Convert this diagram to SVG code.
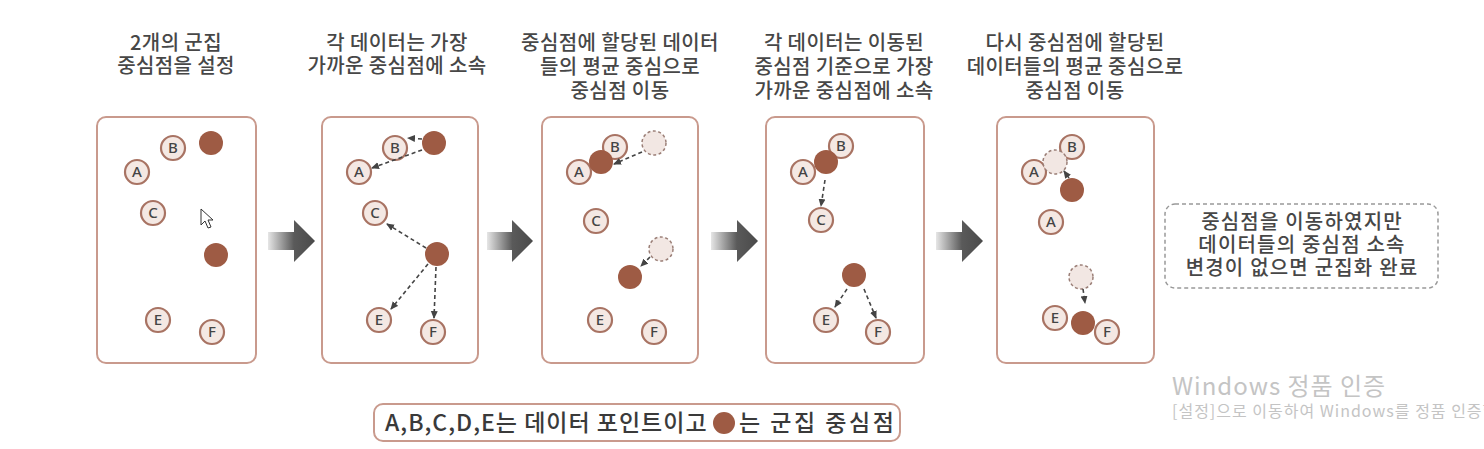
<svg xmlns="http://www.w3.org/2000/svg" width="1484" height="449" viewBox="0 0 1484 449">
<style>
.t{font-family:"Noto Sans CJK KR","Noto Sans",sans-serif;font-size:20px;font-weight:500;fill:#474747;text-anchor:middle;letter-spacing:0.4px}
.r{font-size:20px;letter-spacing:1.2px}
.box{fill:#fff;stroke:#c99a8d;stroke-width:2}
.d circle{fill:#f4e8e3;stroke:#a87363;stroke-width:2.2}
.d text{font-family:"Noto Sans","DejaVu Sans",sans-serif;font-size:15px;font-weight:500;fill:#444;text-anchor:middle}
.c{fill:#9e5b44}
.o{fill:#f2e7e3;stroke:#9a7e76;stroke-width:1.5;stroke-dasharray:3 2.5}
.ln{stroke:#444;stroke-width:1.6;stroke-dasharray:4 3;fill:none;marker-end:url(#ah)}
.ga{fill:url(#gg)}
.lg{font-family:"Noto Sans CJK KR","Noto Sans",sans-serif;font-size:23px;font-weight:500;fill:#3a3a3a}
.wm{font-family:"Noto Sans CJK KR","Noto Sans",sans-serif;fill:#c4c4c4}
</style>
<defs>
<marker id="ah" markerWidth="8" markerHeight="8" refX="7" refY="4" orient="auto" markerUnits="userSpaceOnUse"><path d="M0,0.5 L8,4 L0,7.5 Z" fill="#444"/></marker>
<linearGradient id="gg" x1="0" y1="0" x2="1" y2="0"><stop offset="0" stop-color="#e6e6e6"/><stop offset="0.55" stop-color="#5a5a5a"/><stop offset="1" stop-color="#4a4a4a"/></linearGradient>
</defs>
<rect width="1484" height="449" fill="#fff"/>

<g id="title1"><text class="t" x="176" y="50">2개의 군집</text><text class="t" x="176" y="73">중심점을 설정</text></g>
<g id="title2"><text class="t" x="397" y="50">각 데이터는 가장</text><text class="t" x="397" y="73">가까운 중심점에 소속</text></g>
<g id="title3"><text class="t" x="620" y="50">중심점에 할당된 데이터</text><text class="t" x="620" y="74">들의 평균 중심으로</text><text class="t" x="620" y="98">중심점 이동</text></g>
<g id="title4"><text class="t" x="844" y="50">각 데이터는 이동된</text><text class="t" x="844" y="74">중심점 기준으로 가장</text><text class="t" x="844" y="98">가까운 중심점에 소속</text></g>
<g id="title5"><text class="t" x="1075" y="50">다시 중심점에 할당된</text><text class="t" x="1075" y="74">데이터들의 평균 중심으로</text><text class="t" x="1075" y="98">중심점 이동</text></g>

<g id="panel1">
<rect class="box" x="97" y="117" width="159" height="246" rx="9"/>
<g class="d"><circle cx="173" cy="148" r="12"/><text x="173" y="153">B</text></g>
<g class="d"><circle cx="137" cy="172" r="12"/><text x="137" y="177">A</text></g>
<g class="d"><circle cx="153" cy="213" r="12"/><text x="153" y="218">C</text></g>
<g class="d"><circle cx="158" cy="320" r="12"/><text x="158" y="325">E</text></g>
<g class="d"><circle cx="212" cy="332" r="12"/><text x="212" y="337">F</text></g>
<circle class="c" cx="211" cy="143" r="12"/>
<circle class="c" cx="216" cy="255" r="12"/>
<path d="M201,209 L201,225 L205,221 L208,228 L211,227 L208,220 L213,220 Z" fill="#fff" stroke="#333" stroke-width="1"/>
</g>

<g id="panel2">
<rect class="box" x="322" y="117" width="156" height="246" rx="9"/>
<g class="d"><circle cx="395" cy="148" r="12"/><text x="395" y="153">B</text></g>
<g class="d"><circle cx="359" cy="172" r="12"/><text x="359" y="177">A</text></g>
<g class="d"><circle cx="375" cy="213" r="12"/><text x="375" y="218">C</text></g>
<g class="d"><circle cx="379" cy="320" r="12"/><text x="379" y="325">E</text></g>
<g class="d"><circle cx="433" cy="332" r="12"/><text x="433" y="337">F</text></g>
<circle class="c" cx="434" cy="143" r="12"/>
<circle class="c" cx="437" cy="254" r="12"/>
</g>

<g id="panel3">
<rect class="box" x="542" y="117" width="156" height="246" rx="9"/>
<g class="d"><circle cx="615" cy="147" r="12"/><text x="615" y="152">B</text></g>
<g class="d"><circle cx="579" cy="172" r="12"/><text x="579" y="177">A</text></g>
<circle class="c" cx="601" cy="162" r="12"/>
<circle class="o" cx="654" cy="143" r="12"/>
<g class="d"><circle cx="596" cy="221" r="12"/><text x="596" y="226">C</text></g>
<circle class="o" cx="661" cy="249" r="12"/>
<circle class="c" cx="630" cy="277" r="12"/>
<g class="d"><circle cx="600" cy="320" r="12"/><text x="600" y="325">E</text></g>
<g class="d"><circle cx="654" cy="332" r="12"/><text x="654" y="337">F</text></g>
</g>

<g id="panel4">
<rect class="box" x="766" y="117" width="158" height="246" rx="9"/>
<g class="d"><circle cx="841" cy="146" r="12"/><text x="841" y="151">B</text></g>
<g class="d"><circle cx="803" cy="172" r="12"/><text x="803" y="177">A</text></g>
<circle class="c" cx="826" cy="162" r="12"/>
<g class="d"><circle cx="821" cy="220" r="12"/><text x="821" y="225">C</text></g>
<circle class="c" cx="854" cy="275" r="12"/>
<g class="d"><circle cx="826" cy="320" r="12"/><text x="826" y="325">E</text></g>
<g class="d"><circle cx="878" cy="332" r="12"/><text x="878" y="337">F</text></g>
</g>

<g id="panel5">
<rect class="box" x="997" y="117" width="157" height="246" rx="9"/>
<g class="d"><circle cx="1072" cy="147" r="12"/><text x="1072" y="152">B</text></g>
<g class="d"><circle cx="1034" cy="172" r="12"/><text x="1034" y="177">A</text></g>
<circle class="o" cx="1055" cy="162" r="12"/>
<circle class="c" cx="1072" cy="190" r="12"/>
<g class="d"><circle cx="1051" cy="222" r="12"/><text x="1051" y="227">A</text></g>
<circle class="o" cx="1081" cy="277" r="12"/>
<g class="d"><circle cx="1055" cy="318" r="12"/><text x="1055" y="323">E</text></g>
<g class="d"><circle cx="1107" cy="332" r="12"/><text x="1107" y="337">F</text></g>
<circle class="c" cx="1083" cy="323" r="12"/>
</g>

<g id="connectors">
<line class="ln" x1="422" y1="139" x2="408" y2="138"/>
<line class="ln" x1="422" y1="150" x2="372" y2="168"/>
<line class="ln" x1="426" y1="248" x2="387" y2="224"/>
<line class="ln" x1="428" y1="264" x2="391" y2="309"/>
<line class="ln" x1="436" y1="267" x2="434" y2="318"/>
<line class="ln" x1="642" y1="152" x2="614" y2="164"/>
<line class="ln" x1="650" y1="257" x2="641" y2="266"/>
<line class="ln" x1="825" y1="180" x2="821" y2="206"/>
<line class="ln" x1="847" y1="289" x2="835" y2="307"/>
<line class="ln" x1="864" y1="289" x2="876" y2="318"/>
<line class="ln" x1="1069" y1="178" x2="1064" y2="171"/>
<line class="ln" x1="1083" y1="289" x2="1085" y2="303"/>
<g id="step-arrows">
<path class="ga" d="M268,232 H294 V220 L315,241 L294,262 V250 H268 Z"/>
<path class="ga" d="M487,232 H512 V220 L533,241 L512,262 V250 H487 Z"/>
<path class="ga" d="M711,232 H737 V220 L758,241 L737,262 V250 H711 Z"/>
<path class="ga" d="M936,232 H962 V220 L983,241 L962,262 V250 H936 Z"/>
</g>
</g>

<g id="result">
<rect x="1165" y="204" width="273" height="84" rx="10" fill="#fff" stroke="#999" stroke-width="1.5" stroke-dasharray="4 3"/>
<text class="t r" x="1302" y="229">중심점을 이동하였지만</text>
<text class="t r" x="1302" y="252">데이터들의 중심점 소속</text>
<text class="t r" x="1302" y="275">변경이 없으면 군집화 완료</text>
</g>

<g id="legend">
<rect x="374" y="404" width="526" height="37" rx="9" fill="#fff" stroke="#c99a8d" stroke-width="2"/>
<text class="lg" x="385" y="431" letter-spacing="1">A,B,C,D,E는 데이터 포인트이고</text>
<circle class="c" cx="724" cy="423" r="11"/>
<text class="lg" x="739" y="431" letter-spacing="2.5">는 군집 중심점</text>
</g>

<g id="watermark">
<text class="wm" x="1172" y="395" font-size="24" letter-spacing="1">Windows 정품 인증</text>
<text class="wm" x="1172" y="417" font-size="16" letter-spacing="1">[설정]으로 이동하여 Windows를 정품 인증합니다.</text>
</g>
</svg>
